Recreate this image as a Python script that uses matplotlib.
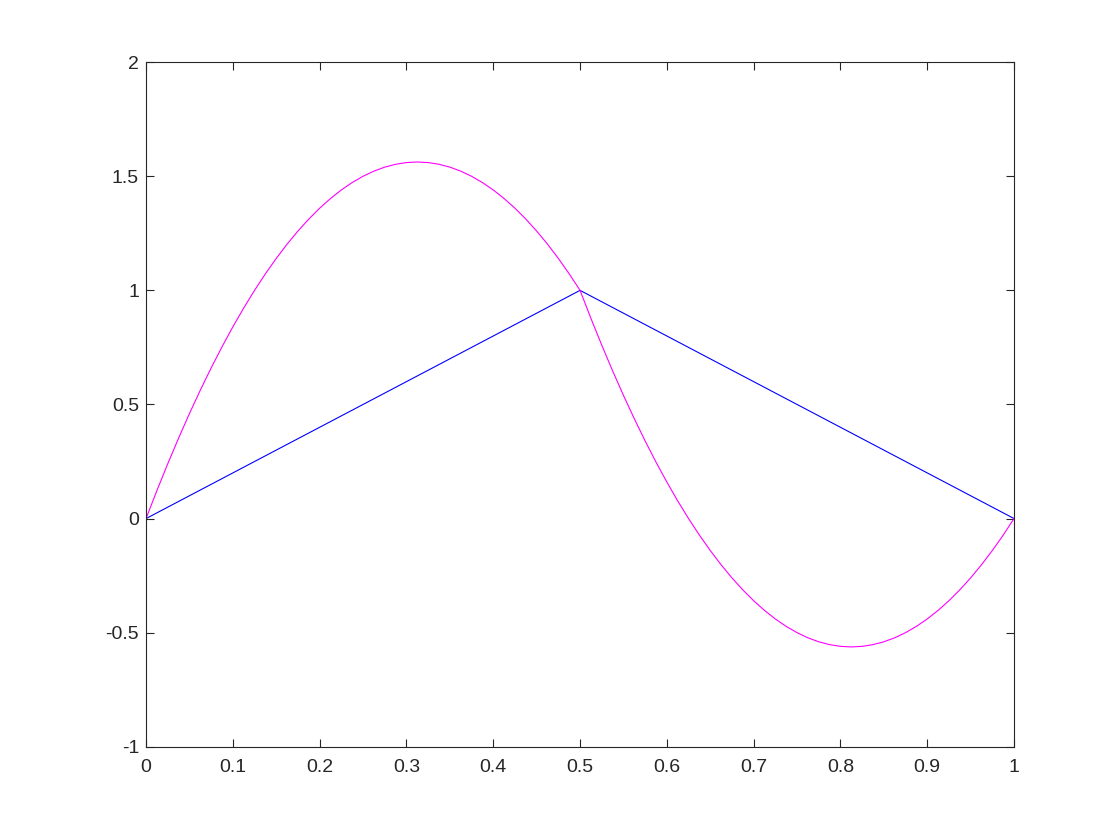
import numpy as np
import matplotlib
matplotlib.use("Agg")
import matplotlib.pyplot as plt

# blue piecewise-linear line
x_blue = [0.0, 0.5, 1.0]
y_blue = [0.0, 1.0, 0.0]

# magenta curve, values every 0.0125
x_mag = [0.0, 0.0125, 0.025, 0.0375, 0.05, 0.0625, 0.075, 0.0875,
         0.1, 0.1125, 0.125, 0.1375, 0.15, 0.1625, 0.175, 0.1875,
         0.2, 0.2125, 0.225, 0.2375, 0.25, 0.2625, 0.275, 0.2875,
         0.3, 0.3125, 0.325, 0.3375, 0.35, 0.3625, 0.375, 0.3875,
         0.4, 0.4125, 0.425, 0.4375, 0.45, 0.4625, 0.475, 0.4875,
         0.5, 0.5125, 0.525, 0.5375, 0.55, 0.5625, 0.575, 0.5875,
         0.6, 0.6125, 0.625, 0.6375, 0.65, 0.6625, 0.675, 0.6875,
         0.7, 0.7125, 0.725, 0.7375, 0.75, 0.7625, 0.775, 0.7875,
         0.8, 0.8125, 0.825, 0.8375, 0.85, 0.8625, 0.875, 0.8875,
         0.9, 0.9125, 0.925, 0.9375, 0.95, 0.9625, 0.975, 0.9875, 1.0]
y_mag = [0.0, 0.1225, 0.24, 0.3525, 0.46, 0.5625, 0.66, 0.7525,
         0.84, 0.9225, 1.0, 1.0725, 1.14, 1.2025, 1.26, 1.3125,
         1.36, 1.4025, 1.44, 1.4725, 1.5, 1.5225, 1.54, 1.5525,
         1.56, 1.5625, 1.56, 1.5525, 1.54, 1.5225, 1.5, 1.4725,
         1.44, 1.4025, 1.36, 1.3125, 1.26, 1.2025, 1.14, 1.0725,
         1.0, 0.8775, 0.76, 0.6475, 0.54, 0.4375, 0.34, 0.2475,
         0.16, 0.0775, 0.0, -0.0725, -0.14, -0.2025, -0.26, -0.3125,
         -0.36, -0.4025, -0.44, -0.4725, -0.5, -0.5225, -0.54, -0.5525,
         -0.56, -0.5625, -0.56, -0.5525, -0.54, -0.5225, -0.5, -0.4725,
         -0.44, -0.4025, -0.36, -0.3125, -0.26, -0.2025, -0.14, -0.0725, 0.0]

x_ticks = [0, 0.1, 0.2, 0.3, 0.4, 0.5, 0.6, 0.7, 0.8, 0.9, 1]
x_labels = ["0", "0.1", "0.2", "0.3", "0.4", "0.5", "0.6", "0.7", "0.8", "0.9", "1"]
y_ticks = [-1, -0.5, 0, 0.5, 1, 1.5, 2]
y_labels = ["-1", "-0.5", "0", "0.5", "1", "1.5", "2"]

plt.rcParams['font.family'] = ['Liberation Sans', 'DejaVu Sans']

fig = plt.figure(figsize=(11.2, 8.4), dpi=100)
ax = fig.add_axes([0.1304, 0.111, 0.775, 0.815])

ax.plot(x_blue, y_blue, color=(0, 0, 1), linewidth=0.8)
ax.plot(x_mag, y_mag, color=(1, 0, 1), linewidth=0.8)

ax.set_xlim(0, 1)
ax.set_ylim(-1, 2)
ax.set_xticks(x_ticks)
ax.set_xticklabels(x_labels)
ax.set_yticks(y_ticks)
ax.set_yticklabels(y_labels)

ax.tick_params(direction='in', length=6, width=0.8, top=True, right=True,
               labelsize=14, colors='#262626')
ax.tick_params(axis='x', pad=9)
ax.tick_params(axis='y', pad=5)
for spine in ax.spines.values():
    spine.set_linewidth(0.8)
    spine.set_color('#262626')

fig.savefig("out.png", dpi=100)
